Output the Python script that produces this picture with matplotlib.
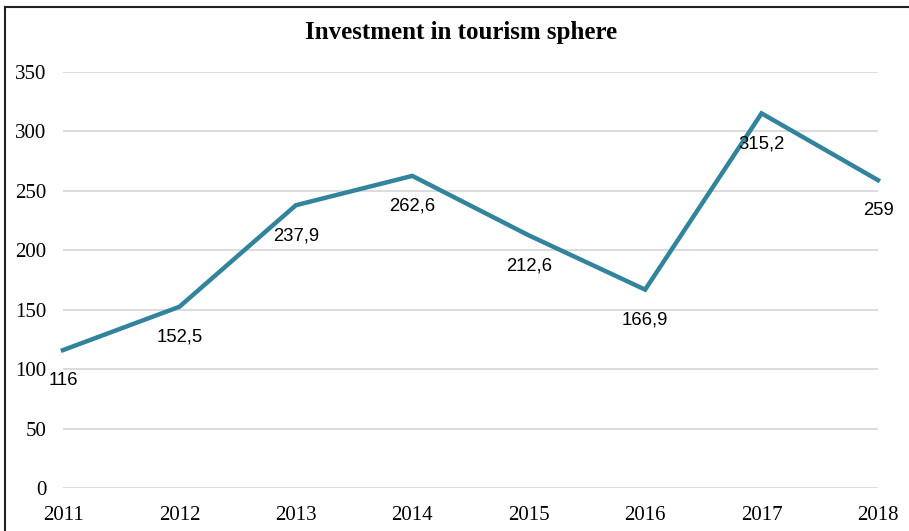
import matplotlib
matplotlib.use("Agg")
import matplotlib.pyplot as plt
from matplotlib.lines import Line2D

years = ["2011", "2012", "2013", "2014", "2015", "2016", "2017", "2018"]
values = [116, 152.5, 237.9, 262.6, 212.6, 166.9, 315.2, 259]
labels = ["116", "152,5", "237,9", "262,6", "212,6", "166,9", "315,2", "259"]
yticks = [0, 50, 100, 150, 200, 250, 300, 350]

W, H = 909, 531
fig = plt.figure(figsize=(W / 100, H / 100), dpi=100)
ax = fig.add_axes([63 / W, 1 - 488 / H, (878 - 63) / W, (488 - 72) / H])

x = list(range(len(years)))
ax.plot(x, values, color="#31849B", lw=3.2, solid_joinstyle="miter", clip_on=False, zorder=3)
for xi, v, lab in zip(x, values, labels):
    ax.annotate(lab, (xi, v), xytext=(0, -22), textcoords="offset points",
                ha="center", va="center", fontsize=13.3, family="Liberation Sans", zorder=4)

ax.set_xlim(0, len(years) - 1)
ax.set_ylim(0, 350)
ax.set_yticks(yticks)
ax.set_xticks(x)
ax.set_xticklabels(years)
ax.tick_params(length=0, labelsize=15)
ax.tick_params(axis="y", pad=12)
ax.tick_params(axis="x", pad=13)
for lab in ax.get_xticklabels() + ax.get_yticklabels():
    lab.set_family("Liberation Serif")
ax.grid(axis="y", color="#D9D9D9", lw=1.3)
ax.set_axisbelow(True)
for s in ax.spines.values():
    s.set_visible(False)

fig.text(461 / W, 1 - 32 / H, "Investment in tourism sphere", ha="center", va="center",
         fontsize=18, fontweight="bold", family="Liberation Serif")

# frame edges visible on the left and top of the original crop
fig.add_artist(Line2D([5 / W, 5 / W], [0, 1 - 7 / H], color="#222222", lw=1.5, transform=fig.transFigure))
fig.add_artist(Line2D([5 / W, 1], [1 - 7 / H, 1 - 7 / H], color="#222222", lw=1.5, transform=fig.transFigure))

fig.savefig("out.png", dpi=100)
